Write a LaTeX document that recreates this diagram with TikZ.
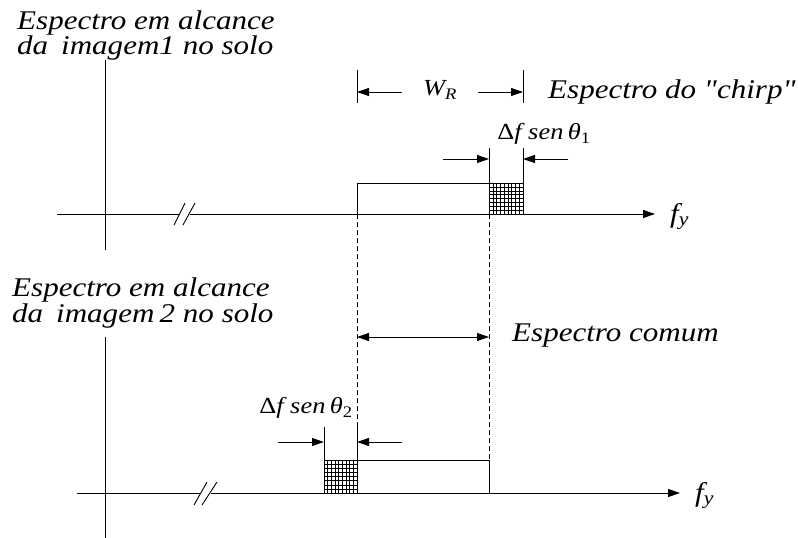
\documentclass[tikz,border=0pt]{standalone}
\usepackage{fontspec}
\setmainfont{Liberation Serif}[Ligatures=TeXOff]
\usepackage{graphicx}
\usetikzlibrary{arrows.meta}
\newcommand\widetxt[1]{\scalebox{1.15}[1]{#1}}
\begin{document}
\begin{tikzpicture}[x=1pt,y=-1pt,
  axisline/.style={line width=1pt,-{Triangle[length=12pt,width=8pt]}},
  plain/.style={line width=0.9pt},
  dimarrow/.style={line width=0.9pt,-{Triangle[length=12pt,width=8pt]}},
  botharrow/.style={line width=0.9pt,{Triangle[length=12pt,width=8pt]}-{Triangle[length=12pt,width=8pt]}},
  dsh/.style={line width=0.8pt,dash pattern=on 5pt off 3pt},
  bigtxt/.style={font=\fontsize{27}{23}\selectfont\itshape,inner sep=0pt},
  smalltxt/.style={font=\fontsize{23}{23}\selectfont\itshape,inner sep=0pt},
  hatch/.style={line width=0.5pt}]
\useasboundingbox (0,0) rectangle (798,538);

% ---------- top diagram ----------
\node[bigtxt,anchor=base west] (l1a) at (17,29) {\widetxt{Espectro em alcance}};
\node[bigtxt,anchor=base west] (l1b) at (17,54) {\widetxt{da\, imagem1 no solo}};

\coordinate (v1t) at (105,60); \coordinate (v1b) at (105,250);
\draw[plain] (v1t) -- (v1b);
\coordinate (h1s) at (57,214); \coordinate (h1a) at (179,214);
\coordinate (h1c) at (190,214); \coordinate (h1e) at (655,214);
\draw[plain] (h1s) -- (h1a);
\draw[axisline] (h1c) -- (h1e);
\coordinate (s1a) at (174,225); \coordinate (s1b) at (185,203);
\coordinate (s1c) at (183,225); \coordinate (s1d) at (195,203);
\draw[plain] (s1a) -- (s1b); \draw[plain] (s1c) -- (s1d);
\node[bigtxt,anchor=base west] (fy1) at (670,222) {\widetxt{f\textsubscript{y}}};

% rectangle + hatched block
\coordinate (r1a) at (357,214); \coordinate (r1b) at (489,183);
\draw[plain] (r1a) |- (r1b);
\coordinate (hb1a) at (489,183); \coordinate (hb1b) at (523,214);
\draw[plain] (hb1a) rectangle (hb1b);
\foreach \i in {1,...,8} \draw[hatch] (489+\i*34/9,183) -- (489+\i*34/9,214);
\foreach \j in {1,...,7} \draw[hatch] (489,183+\j*31/8) -- (523,183+\j*31/8);

% W_R dimension
\coordinate (wt1) at (357,70); \coordinate (wb1) at (357,103);
\coordinate (wt2) at (523,70); \coordinate (wb2) at (523,103);
\draw[plain] (wt1) -- (wb1); \draw[plain] (wt2) -- (wb2);
\coordinate (wa1) at (402,92); \coordinate (wa1e) at (357,92);
\coordinate (wa2) at (478,92); \coordinate (wa2e) at (523,92);
\draw[dimarrow] (wa1) -- (wa1e); \draw[dimarrow] (wa2) -- (wa2e);
\node[smalltxt] (wr) at (440,90) {\widetxt{W\textsubscript{R}}};
\node[bigtxt,anchor=base west] (chirp) at (548,98) {\widetxt{Espectro do "chirp"}};

% Delta f sen theta1
\node[smalltxt] (d1) at (544,134) {\widetxt{{\upshape Δ}f sen\,θ\textsubscript{\upshape 1}}};
\coordinate (dt1) at (489,148); \coordinate (dt2) at (523,148);
\draw[plain] (dt1) -- (hb1a); \draw[plain] (dt2) -- (523,183);
\coordinate (da1) at (443,159); \coordinate (da1e) at (489,159);
\coordinate (da2) at (568,159); \coordinate (da2e) at (523,159);
\draw[dimarrow] (da1) -- (da1e); \draw[dimarrow] (da2) -- (da2e);

% dashed links
\coordinate (dl1b) at (357,493); \coordinate (dl2b) at (489,460);
\draw[dsh] (r1a) -- (dl1b);
\draw[dsh] (489,214) -- (dl2b);

% ---------- bottom diagram ----------
\node[bigtxt,anchor=base west] (l2a) at (12,296) {\widetxt{Espectro em alcance}};
\node[bigtxt,anchor=base west] (l2b) at (12,322) {\widetxt{da\, imagem\,2 no solo}};

\coordinate (v2t) at (105,337); \coordinate (v2b) at (105,538);
\draw[plain] (v2t) -- (v2b);
\coordinate (h2s) at (77,493); \coordinate (h2a) at (200,493);
\coordinate (h2c) at (211,493); \coordinate (h2e) at (680,493);
\draw[plain] (h2s) -- (h2a);
\draw[axisline] (h2c) -- (h2e);
\coordinate (s2a) at (194,505); \coordinate (s2b) at (207,482);
\coordinate (s2c) at (202,505); \coordinate (s2d) at (217,482);
\draw[plain] (s2a) -- (s2b); \draw[plain] (s2c) -- (s2d);
\node[bigtxt,anchor=base west] (fy2) at (695,501) {\widetxt{f\textsubscript{y}}};

\coordinate (hb2a) at (324,460); \coordinate (hb2b) at (357,493);
\draw[plain] (hb2a) rectangle (hb2b);
\foreach \i in {1,...,8} \draw[hatch] (324+\i*33/9,460) -- (324+\i*33/9,493);
\foreach \j in {1,...,7} \draw[hatch] (324,460+\j*33/8) -- (357,460+\j*33/8);
\coordinate (r2a) at (357,460); \coordinate (r2b) at (489,493);
\draw[plain] (r2a) -| (r2b);

\node[smalltxt] (d2) at (306,408) {\widetxt{{\upshape Δ}f sen\,θ\textsubscript{\upshape 2}}};
\coordinate (et1) at (324,427); \coordinate (et2) at (357,427);
\draw[plain] (et1) -- (hb2a); \draw[plain] (et2) -- (r2a);
\coordinate (ea1) at (278,442); \coordinate (ea1e) at (324,442);
\coordinate (ea2) at (402,442); \coordinate (ea2e) at (357,442);
\draw[dimarrow] (ea1) -- (ea1e); \draw[dimarrow] (ea2) -- (ea2e);

% common spectrum
\coordinate (c1) at (357,337); \coordinate (c2) at (489,337);
\draw[botharrow] (c1) -- (c2);
\node[bigtxt,anchor=base west] (comum) at (512,341) {\widetxt{Espectro comum}};
\end{tikzpicture}
\end{document}
